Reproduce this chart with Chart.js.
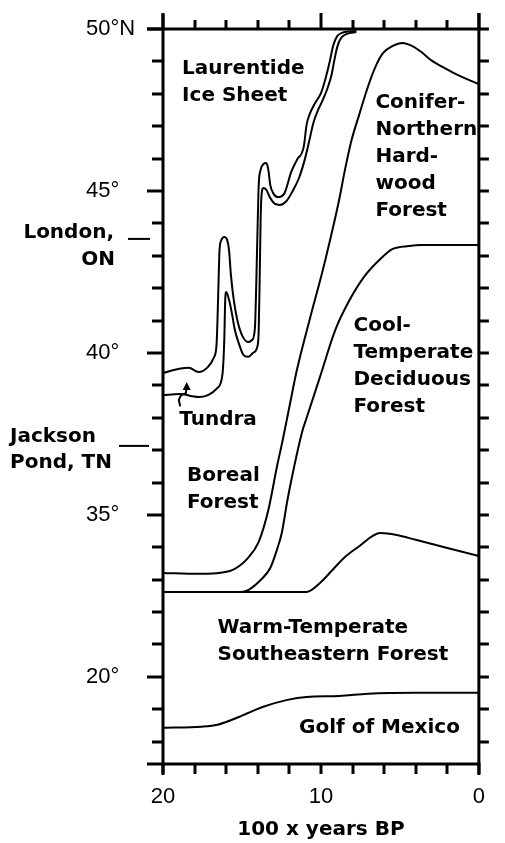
<!DOCTYPE html>
<html><head><meta charset="utf-8">
<script src="https://cdn.jsdelivr.net/npm/chart.js@4/dist/chart.umd.min.js"></script>
<style>html,body{margin:0;padding:0;background:#fff}canvas{display:block}</style>
</head><body>
<canvas id="c" width="505" height="843"></canvas>
<script>
// x: age in 100 x years BP ; y: position on the drawn latitude axis (degrees)
const iceMarginAge = [20,18.97,18.36,17.76,17.15,16.79,16.61,16.55,16.48,16.42,16.30,16.12,15.94,15.82,15.70,15.52,15.27,14.97,14.61,14.36,14.18,14.12,14.06,14.00,13.94,13.82,13.64,13.45,13.33,13.21,13.03,12.73,12.30,11.88,11.52,11.09,10.91,10.73,10.36,10.00,9.70,9.45,9.21,8.97,8.67,7.76];
const iceMarginLat = [39.38,39.51,39.54,39.41,39.57,39.85,40.25,41.02,42.25,43.18,43.49,43.58,43.49,43.18,42.41,41.64,40.96,40.52,40.34,40.40,40.77,41.64,42.87,44.10,45.19,45.65,45.83,45.86,45.65,45.19,44.94,44.81,44.94,45.59,45.96,46.36,47.04,47.35,47.72,48.02,48.49,48.98,49.51,49.78,49.88,49.94];

const tundraAge = [20,18.97,17.76,17.15,16.55,16.24,16.12,16.06,16.00,15.82,15.64,15.45,15.21,14.91,14.61,14.30,14.00,13.94,13.88,13.82,13.76,13.64,13.45,13.21,12.91,12.61,12.18,11.82,11.39,11.03,10.73,10.48,10.18,9.88,9.58,9.33,9.15,8.97,8.73,8.36,7.76];
const tundraLat = [38.70,38.73,38.64,38.70,38.92,39.32,40.40,41.64,41.88,41.64,41.23,40.71,40.31,39.94,39.88,40.00,40.25,40.71,42.25,44.10,44.88,45.09,45.03,44.78,44.60,44.57,44.69,44.97,45.40,45.96,46.57,47.10,47.50,47.81,48.18,48.58,49.04,49.44,49.72,49.85,49.91];

const borealAge = [20,17.76,15.76,15.15,14.73,13.94,13.33,12.79,12.42,12.00,11.52,10.67,9.88,9.27,8.85,8.48,8.06,7.58,7.03,6.55,6.06,5.45,4.85,4.24,3.64,3.03,2.30,1.58,0.79,0];
const borealLat = [33.21,33.18,33.27,33.43,33.61,34.17,35.15,36.48,37.31,38.33,39.48,41.11,42.56,43.80,44.72,45.65,46.57,47.35,48.21,48.83,49.26,49.48,49.57,49.48,49.29,49.04,48.83,48.64,48.46,48.30];

const coniferAge = [20,15.33,14.61,13.82,13.21,12.79,12.48,12.12,11.70,11.21,10.91,10.06,9.09,8.18,7.27,6.24,5.45,4.42,3.64,0];
const coniferLat = [32.62,32.62,32.68,32.99,33.36,33.92,34.44,35.46,36.48,37.53,37.99,39.26,40.71,41.64,42.35,42.90,43.21,43.30,43.33,43.33];

const coolTempAge = [20,10.91,10.06,9.27,8.48,7.64,6.24,5.21,4.0,2.0,0];
const coolTempLat = [32.62,32.62,32.90,33.30,33.70,34.01,34.44,34.38,34.23,33.98,33.73];

const gulfAge = [20,17.58,16.55,15.15,13.70,12.12,10.91,8.85,7.03,4.0,0];
const gulfLat = [28.43,28.46,28.52,28.77,29.07,29.29,29.38,29.41,29.48,29.51,29.51];

const xTickValues = [20,10,0];
const xTickLabels = ['20','10','0'];
const yTickValues = [30,35,40,45,50];
const yTickLabels = ['20°','35°','40°','45°','50°N'];

const zoneLabels = [
  {lines:['Laurentide','Ice Sheet'], t:18.79, u:48.77},
  {lines:['Conifer-','Northern','Hard-','wood','Forest'], t:6.55, u:47.73},
  {lines:['Cool-','Temperate','Deciduous','Forest'], t:7.94, u:40.83},
  {lines:['Tundra'], t:18.97, u:37.93},
  {lines:['Boreal','Forest'], t:18.48, u:36.20},
  {lines:['Warm-Temperate','Southeastern Forest'], t:16.55, u:31.51},
  {lines:['Golf of Mexico'], t:11.39, u:28.43}
];
const siteNames = [['London,','ON'],['Jackson','Pond, TN']];
const siteLat = [43.52, 37.13];

const series = [
  [iceMarginAge, iceMarginLat],
  [tundraAge, tundraLat],
  [borealAge, borealLat],
  [coniferAge, coniferLat],
  [coolTempAge, coolTempLat],
  [gulfAge, gulfLat]
];

const bgPlugin = {id:'bg', beforeDraw(c){const g=c.ctx; g.save(); g.fillStyle='#fff'; g.fillRect(0,0,c.width,c.height); g.restore();}};

const framePlugin = {id:'frame', afterDraw(chart){
  const g = chart.ctx, a = chart.chartArea, xs = chart.scales.x, ys = chart.scales.y;
  g.save();
  g.strokeStyle = '#000'; g.fillStyle = '#000'; g.lineCap = 'butt';
  const seg = (x1,y1,x2,y2,w)=>{g.lineWidth=w; g.beginPath(); g.moveTo(x1,y1); g.lineTo(x2,y2); g.stroke();};
  // frame
  seg(a.left-16, a.top, a.right+1.5, a.top, 3);
  seg(a.left-16, a.bottom, a.right+1.5, a.bottom, 3);
  seg(a.left, a.top-15, a.left, a.bottom+11, 3);
  seg(a.right, a.top-16, a.right, a.bottom+11, 3);
  // y ticks
  for (let v=28; v<=50; v++){
    const py = Math.round(ys.getPixelForValue(v));
    const major = v%5===0;
    seg(a.left-(major?16:11), py, a.left, py, 3);
    seg(a.right, py, a.right+10, py, 3);
  }
  // x ticks
  for (let t=0; t<=20; t+=2){
    const px = Math.round(xs.getPixelForValue(t));
    const major = t%10===0;
    seg(px, a.top-(major?16:9), px, a.top, 3);
    seg(px, a.bottom, px, a.bottom+10, 3);
  }
  // zone labels
  g.font = 'bold 20px "DejaVu Sans"'; g.textBaseline='middle'; g.textAlign='left';
  zoneLabels.forEach(l=>{
    const px = xs.getPixelForValue(l.t), py = ys.getPixelForValue(l.u);
    l.lines.forEach((s,i)=>g.fillText(s, px, py+i*27));
  });
  // site labels left of axis
  const yl = ys.getPixelForValue(siteLat[0]);
  g.textAlign='right';
  g.fillText(siteNames[0][0], 114, yl-6);
  g.fillText(siteNames[0][1], 115, yl+21);
  seg(128, yl, 150, yl, 2);
  const yj = ys.getPixelForValue(siteLat[1]);
  g.textAlign='left';
  g.fillText(siteNames[1][0], 10, yj-9);
  g.fillText(siteNames[1][1], 10, yj+17);
  seg(119, yj, 149, yj, 2);
  // tundra pointer
  const P = (t,u)=>[xs.getPixelForValue(t), ys.getPixelForValue(u)];
  g.lineWidth=2; g.beginPath();
  let p=P(18.91,38.35); g.moveTo(p[0],p[1]);
  p=P(19.00,38.55); g.lineTo(p[0],p[1]);
  p=P(18.85,38.70); g.lineTo(p[0],p[1]);
  p=P(18.55,38.76); g.lineTo(p[0],p[1]);
  p=P(18.50,38.98); g.lineTo(p[0],p[1]);
  g.stroke();
  g.beginPath(); p=P(18.50,39.10); g.moveTo(p[0],p[1]); g.lineTo(p[0]-4,p[1]+8); g.lineTo(p[0]+4,p[1]+8); g.closePath(); g.fill();
  g.restore();
}};

new Chart(document.getElementById('c').getContext('2d'), {
  type:'line',
  data:{datasets: series.map(s=>({
    data: s[0].map((a,i)=>({x:a, y:s[1][i]})),
    borderColor:'#000', borderWidth:2, pointRadius:0, fill:false,
    cubicInterpolationMode:'monotone'
  }))},
  options:{
    responsive:false, animation:false, devicePixelRatio:1,
    layout:{padding:{left:86, right:12, top:29, bottom:0}},
    plugins:{legend:{display:false}, tooltip:{enabled:false}},
    scales:{
      x:{type:'linear', reverse:true, min:0, max:20,
        grid:{display:false, drawTicks:false}, border:{display:false},
        afterBuildTicks:s=>{s.ticks = xTickValues.map(v=>({value:v}));},
        afterFit:s=>{s.height=79;},
        ticks:{autoSkip:false, maxRotation:0, padding:20, color:'#000',
          font:{family:'Liberation Sans', size:22},
          callback:(v,i)=>xTickLabels[i]},
        title:{display:true, text:'100 x years BP', color:'#000',
          font:{family:'DejaVu Sans', size:20, weight:'bold'}, padding:{top:0,bottom:1}}
      },
      y:{type:'linear', min:27.31, max:50,
        grid:{display:false, drawTicks:false}, border:{display:false},
        afterBuildTicks:s=>{s.ticks = yTickValues.map(v=>({value:v}));},
        afterFit:s=>{s.width=77;},
        ticks:{autoSkip:false, crossAlign:'far', padding:0, color:'#000',
          font:{family:'Liberation Sans', size:22},
          callback:(v,i)=>yTickLabels[i]}
      }
    }
  },
  plugins:[bgPlugin, framePlugin]
});
</script>
</body></html>
